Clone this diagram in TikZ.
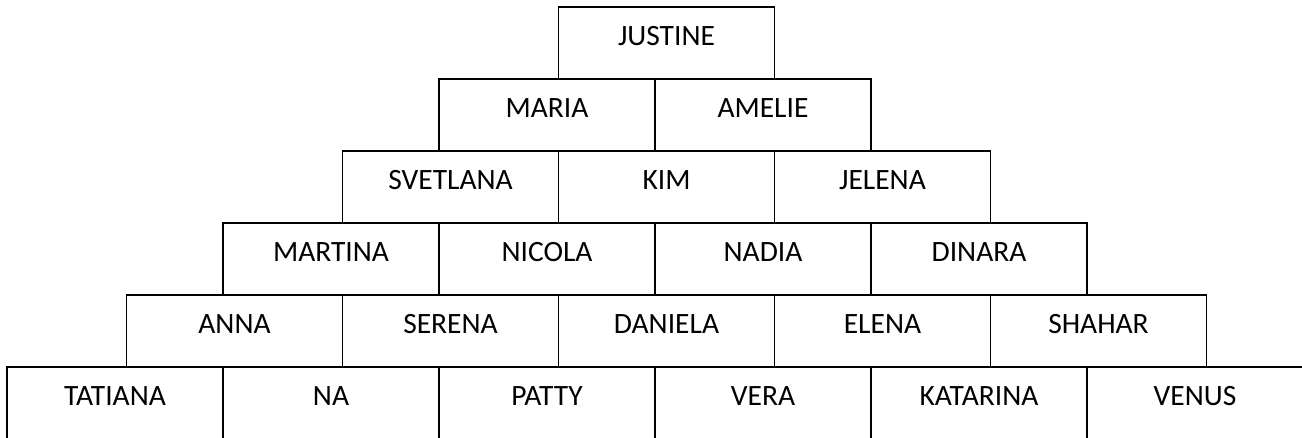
\documentclass[tikz,border=0pt]{standalone}
\usepackage{fontspec}
\setmainfont{Carlito}
\begin{document}
\begin{tikzpicture}[x=1pt,y=-1pt,
  box/.style={draw=black,line width=1.6pt,rectangle,anchor=north west,
    minimum width=216pt,minimum height=72pt,inner sep=0pt,outer sep=0pt,
    text height=19.5pt,text depth=14pt,font=\fontsize{29.5}{31}\selectfont}]
\clip (0,0) rectangle (1302,437);
\fill[white] (0,0) rectangle (1302,437);
% row 1
\node[box] (justine) at (558.5,7) {JUSTINE};
% row 2
\node[box] (maria) at (439,79) {MARIA};
\node[box] (amelie) at (655,79) {AMELIE};
% row 3
\node[box] (svetlana) at (342.5,151) {SVETLANA};
\node[box] (kim) at (558.5,151) {KIM};
\node[box] (jelena) at (774.5,151) {JELENA};
% row 4
\node[box] (martina) at (223,223) {MARTINA};
\node[box] (nicola) at (439,223) {NICOLA};
\node[box] (nadia) at (655,223) {NADIA};
\node[box] (dinara) at (871,223) {DINARA};
% row 5
\node[box] (anna) at (126.5,295) {ANNA};
\node[box] (serena) at (342.5,295) {SERENA};
\node[box] (daniela) at (558.5,295) {DANIELA};
\node[box] (elena) at (774.5,295) {ELENA};
\node[box] (shahar) at (990.5,295) {SHAHAR};
% row 6
\node[box] (tatiana) at (7,367) {TATIANA};
\node[box] (na) at (223,367) {NA};
\node[box] (patty) at (439,367) {PATTY};
\node[box] (vera) at (655,367) {VERA};
\node[box] (katarina) at (871,367) {KATARINA};
\node[box] (venus) at (1087,367) {VENUS};
\end{tikzpicture}
\end{document}
